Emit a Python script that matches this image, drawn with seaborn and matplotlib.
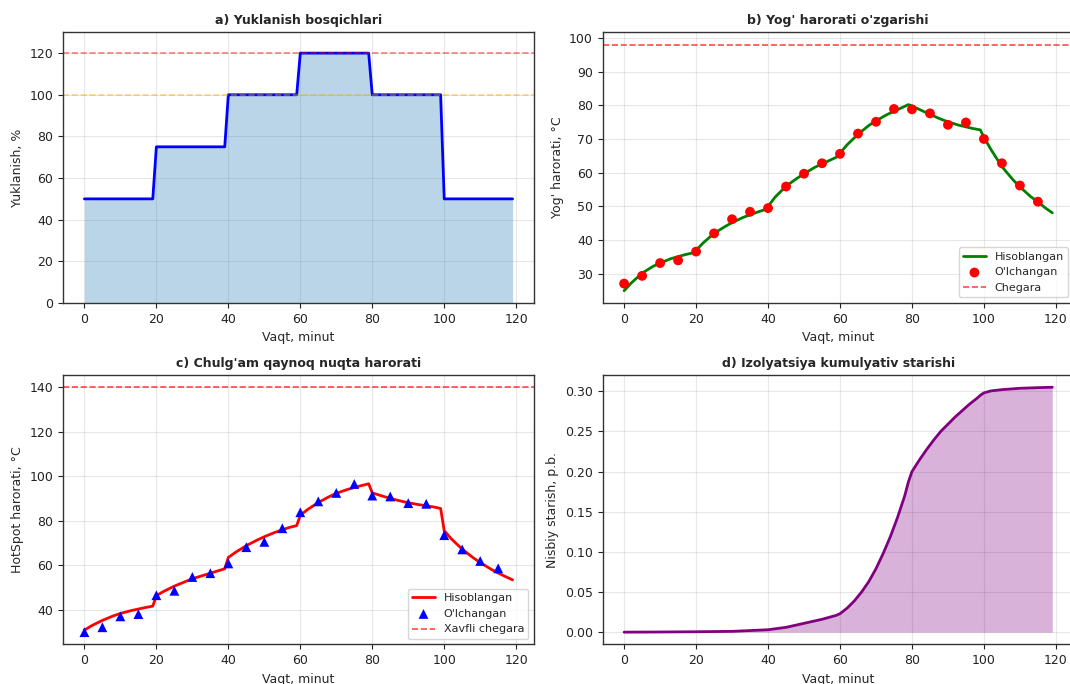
import numpy as np
import pandas as pd
import matplotlib
matplotlib.use("Agg")
import matplotlib.pyplot as plt
import seaborn as sns

sns.set_style("whitegrid")
plt.rcParams['font.family'] = ['DejaVu Sans']

# ---------------- data ----------------
load_t = [0, 19, 20, 39, 40, 59, 60, 79, 80, 99, 100, 119]
load_v = [50, 50, 75, 75, 100, 100, 120, 120, 100, 100, 50, 50]

t_calc = [0, 2, 5, 8, 10, 13, 15, 17, 19,
          20, 22, 25, 28, 30, 33, 35, 37, 39,
          40, 42, 45, 48, 50, 53, 55, 57, 59,
          60, 62, 65, 68, 70, 73, 75, 77, 79,
          80, 82, 85, 88, 90, 93, 95, 97, 99,
          100, 102, 105, 108, 110, 113, 115, 117, 119]

oil_calc = [25.0, 27.3, 30.2, 32.2, 33.2, 34.5, 35.1, 35.7, 36.2,
            37.0, 39.2, 42.0, 44.0, 45.2, 46.7, 47.5, 48.3, 49.0,
            50.0, 52.8, 56.0, 58.3, 59.7, 61.6, 62.6, 63.6, 64.6,
            65.8, 68.3, 71.4, 74.0, 75.4, 77.2, 78.2, 79.2, 80.2,
            79.8, 78.8, 77.3, 75.9, 75.1, 74.1, 73.6, 73.1, 72.7,
            70.5, 66.8, 61.8, 58.0, 55.8, 52.9, 51.4, 49.6, 48.1]

hs_calc = [30.8, 32.8, 35.2, 37.2, 38.3, 39.6, 40.3, 41.0, 41.6,
           46.3, 48.2, 50.6, 52.6, 53.9, 55.4, 56.4, 57.4, 58.4,
           63.5, 65.8, 68.8, 71.3, 72.8, 74.8, 75.9, 77.0, 77.8,
           82.5, 85.0, 88.2, 90.8, 92.3, 94.0, 94.9, 95.8, 96.6,
           92.5, 91.5, 90.0, 88.8, 88.1, 87.2, 86.7, 86.2, 85.5,
           75.5, 71.8, 67.2, 63.4, 61.2, 58.2, 56.5, 54.9, 53.4]

t_meas = [0, 5, 10, 15, 20, 25, 30, 35, 40, 45, 50, 55,
          60, 65, 70, 75, 80, 85, 90, 95, 100, 105, 110, 115]
oil_meas = [27.1, 29.4, 33.2, 34.0, 36.6, 42.0, 46.2, 48.4, 49.5, 55.9, 59.7, 62.8,
            65.6, 71.6, 75.1, 78.9, 78.8, 77.6, 74.2, 74.9, 70.0, 62.8, 56.2, 51.4]
hs_meas = [29.9, 32.1, 37.0, 38.0, 46.5, 48.5, 54.7, 56.4, 60.8, 68.1, 70.5, 76.6,
           83.8, 88.7, 92.5, 96.5, 91.3, 90.9, 87.9, 87.6, 73.5, 67.1, 61.9, 58.6]

t_aging = [0, 10, 20, 30, 35, 40, 45, 50, 55, 59,
           60, 62, 64, 66, 68, 70, 72, 74, 76, 78, 79,
           80, 82, 84, 86, 88, 90, 92, 94, 96, 98, 99,
           100, 102, 105, 110, 115, 119]
aging = [0.0, 0.0002, 0.0005, 0.001, 0.002, 0.003, 0.006, 0.011, 0.016, 0.021,
         0.023, 0.030, 0.039, 0.050, 0.063, 0.079, 0.098, 0.119, 0.143, 0.170, 0.187,
         0.200, 0.214, 0.227, 0.239, 0.250, 0.259, 0.268, 0.276, 0.284, 0.291, 0.295,
         0.298, 0.3005, 0.302, 0.3037, 0.3045, 0.305]

oil_limit = 98
hs_limit = 140

# ---------------- figure ----------------
W, H = 1070, 684
fig = plt.figure(figsize=(W / 100, H / 100), dpi=100)

def box(left, top, right, bottom):
    return [left / W, 1 - bottom / H, (right - left) / W, (bottom - top) / H]

ax_a = fig.add_axes(box(63, 32.3, 534, 303))
ax_b = fig.add_axes(box(602.7, 32.3, 1073.7, 303))
ax_c = fig.add_axes(box(63, 375, 534, 644.4))
ax_d = fig.add_axes(box(602.7, 375, 1073.7, 644.4))

FS_T = 9
FS_L = 9
FS_TK = 9
FS_LG = 8

for ax in (ax_a, ax_b, ax_c, ax_d):
    for s in ax.spines.values():
        s.set_edgecolor('#333333')
        s.set_linewidth(1.0)
    ax.grid(True, alpha=0.3, color='#b0b0b0', linewidth=0.8)
    ax.tick_params(axis='both', labelsize=FS_TK, length=3.5, width=0.8,
                   direction='out', left=True, bottom=True, colors='#222222')
    ax.set_facecolor('white')

# a) load
df_load = pd.DataFrame({'t': load_t, 'v': load_v})
ax_a.fill_between(df_load['t'], df_load['v'], color='#1f77b4', alpha=0.3, linewidth=0)
sns.lineplot(data=df_load, x='t', y='v', ax=ax_a, color='blue', linewidth=2)
ax_a.axhline(120, color='red', linestyle='--', alpha=0.5, linewidth=1.2)
ax_a.axhline(100, color='orange', linestyle='--', alpha=0.5, linewidth=1.2)
ax_a.set_ylim(0, 130)
ax_a.set_title("a) Yuklanish bosqichlari", fontsize=FS_T, fontweight='bold')
ax_a.set_xlabel("Vaqt, minut", fontsize=FS_L)
ax_a.set_ylabel("Yuklanish, %", fontsize=FS_L)

# b) oil
df_oc = pd.DataFrame({'t': t_calc, 'v': oil_calc})
df_om = pd.DataFrame({'t': t_meas, 'v': oil_meas})
sns.lineplot(data=df_oc, x='t', y='v', ax=ax_b, color='green', linewidth=2, label='Hisoblangan')
sns.scatterplot(data=df_om, x='t', y='v', ax=ax_b, color='red', s=50, edgecolor='none',
                label="O'lchangan", zorder=3)
ax_b.axhline(oil_limit, color='red', linestyle='--', alpha=0.7, linewidth=1.2, label='Chegara')
ax_b.set_title("b) Yog' harorati o'zgarishi", fontsize=FS_T, fontweight='bold')
ax_b.set_xlabel("Vaqt, minut", fontsize=FS_L)
ax_b.set_ylabel("Yog' harorati, °C", fontsize=FS_L)
ax_b.legend(loc='lower right', fontsize=FS_LG, framealpha=0.8)

# c) hot spot
df_hc = pd.DataFrame({'t': t_calc, 'v': hs_calc})
df_hm = pd.DataFrame({'t': t_meas, 'v': hs_meas})
sns.lineplot(data=df_hc, x='t', y='v', ax=ax_c, color='red', linewidth=2, label='Hisoblangan')
sns.scatterplot(data=df_hm, x='t', y='v', ax=ax_c, color='blue', marker='^', s=50,
                edgecolor='none', label="O'lchangan", zorder=3)
ax_c.axhline(hs_limit, color='red', linestyle='--', alpha=0.7, linewidth=1.2, label='Xavfli chegara')
ax_c.set_title("c) Chulg'am qaynoq nuqta harorati", fontsize=FS_T, fontweight='bold')
ax_c.set_xlabel("Vaqt, minut", fontsize=FS_L)
ax_c.set_ylabel("HotSpot harorati, °C", fontsize=FS_L)
ax_c.legend(loc='lower right', fontsize=FS_LG, framealpha=0.8)

# d) aging
df_ag = pd.DataFrame({'t': t_aging, 'v': aging})
ax_d.fill_between(df_ag['t'], df_ag['v'], color='purple', alpha=0.3, linewidth=0)
sns.lineplot(data=df_ag, x='t', y='v', ax=ax_d, color='purple', linewidth=2)
ax_d.set_title("d) Izolyatsiya kumulyativ starishi", fontsize=FS_T, fontweight='bold')
ax_d.set_xlabel("Vaqt, minut", fontsize=FS_L)
ax_d.set_ylabel("Nisbiy starish, p.b.", fontsize=FS_L)

for ax in (ax_a, ax_b, ax_c, ax_d):
    ax.set_xticks([0, 20, 40, 60, 80, 100, 120])

fig.savefig("out.png", dpi=100)
